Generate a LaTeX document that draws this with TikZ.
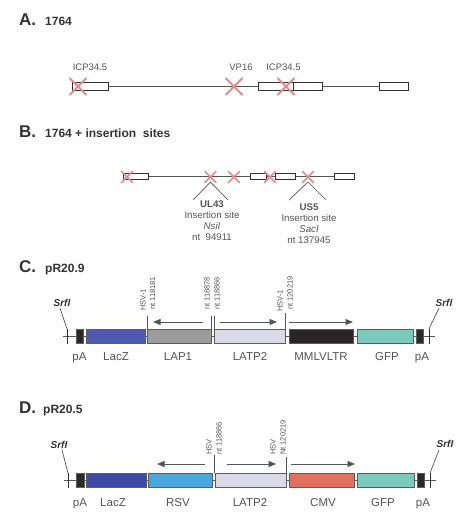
\documentclass[tikz,border=0pt]{standalone}
\usepackage{fontspec}
\setmainfont{Liberation Sans}
\usetikzlibrary{arrows.meta,shapes.misc}
\definecolor{ink}{HTML}{333333}
\definecolor{lab}{HTML}{555555}
\definecolor{ln}{HTML}{555555}
\definecolor{xred}{HTML}{E58A88}
\definecolor{cPA}{HTML}{2A2A2A}
\definecolor{cLacZa}{HTML}{4F5BB0}
\definecolor{cLacZb}{HTML}{3C4AA6}
\definecolor{cLAP}{HTML}{9C9C9C}
\definecolor{cLATP}{HTML}{D9DBE9}
\definecolor{cMML}{HTML}{2B2326}
\definecolor{cGFP}{HTML}{7CCABB}
\definecolor{cRSV}{HTML}{4AA6DC}
\definecolor{cCMV}{HTML}{E2705F}
\tikzset{
  hdr/.style={anchor=base west,inner sep=0,text=ink,font=\fontsize{17}{17}\selectfont\bfseries},
  sub/.style={anchor=base west,inner sep=0,text=ink,font=\fontsize{12}{12}\selectfont\bfseries},
  lbl/.style={anchor=base,inner sep=0,text=lab,font=\fontsize{9.5}{11}\selectfont},
  blbl/.style={anchor=base,inner sep=0,text=lab,font=\fontsize{11.5}{12}\selectfont},
  ilbl/.style={anchor=north,inner sep=0,text=lab,align=center,font=\fontsize{9.7}{11}\selectfont},
  rot/.style={anchor=west,rotate=90,inner sep=0,text=lab,font=\fontsize{7.5}{8}\selectfont},
  srf/.style={anchor=base,inner sep=0,text=ink,font=\fontsize{10}{10}\selectfont\bfseries\itshape},
  bb/.style={draw=ln,line width=0.7pt},
  abox/.style={draw=ink,fill=white,line width=0.8pt,rectangle,inner sep=0,minimum height=8pt},
  bbox/.style={draw=ink,fill=white,line width=0.7pt,rectangle,inner sep=0,minimum height=6pt},
  cbox/.style={draw=ink!80,line width=0.6pt,rectangle,inner sep=0,minimum height=14pt},
  xbig/.style={cross out,draw=xred,line width=2pt,minimum size=15pt,inner sep=0},
  xsmall/.style={cross out,draw=xred,line width=1.6pt,minimum size=10pt,inner sep=0},
  marker/.style={draw=ln,line width=0.7pt},
  dir/.style={draw=ln,line width=0.9pt,-{Triangle[length=7.5pt,width=6pt]}},
  tick/.style={draw=ink,line width=1pt}
}
\begin{document}
\begin{tikzpicture}[x=1pt,y=-1pt]
\useasboundingbox (0,0) rectangle (471,524);
% ---------------- A
\node[hdr] (hA) at (19,26) {A.};
\node[sub] (tA) at (45,26) {1764};
\coordinate (aL) at (72,86);
\coordinate (aR) at (408,86);
\draw[bb] (aL) -- (aR);
\node[abox,minimum width=36pt] (a1) at (90,86) {};
\node[abox,minimum width=35pt] (a2) at (275.5,86) {};
\node[abox,minimum width=29pt] (a3) at (307.5,86) {};
\node[abox,minimum width=29pt] (a4) at (393.5,86) {};
\node[xbig] (ax1) at (78,86.5) {};
\node[xbig] (ax2) at (234,86.5) {};
\node[xbig] (ax3) at (286,86.5) {};
\node[lbl] (al1) at (90,71) {ICP34.5};
\node[lbl] (al2) at (241,71) {VP16};
\node[lbl] (al3) at (283.5,71) {ICP34.5};
% ---------------- B
\node[hdr] (hB) at (19,137) {B.};
\node[sub] (tB) at (45,137) {1764 + insertion\ \ sites};
\coordinate (bL) at (123,176);
\coordinate (bR) at (354,176);
\draw[bb] (bL) -- (bR);
\node[bbox,minimum width=25pt] (b1) at (135.5,176) {};
\node[bbox,minimum width=16pt] (b2) at (258,176) {};
\node[bbox,minimum width=20pt] (b3) at (285,176) {};
\node[bbox,minimum width=20pt] (b4) at (344,176) {};
\node[xsmall] (bx1) at (127,177) {};
\node[xsmall] (bx2) at (210.5,177) {};
\node[xsmall] (bx3) at (234,177) {};
\node[xsmall] (bx4) at (270,177) {};
\node[xsmall] (bx5) at (308,177) {};
\coordinate (u0) at (210.5,182);
\coordinate (s0) at (308,182);
\coordinate (u1) at (193,200);
\coordinate (u2) at (228,200);
\coordinate (s1) at (289,200);
\coordinate (s2) at (326,200);
\draw[bb] (u1) -- (u0) -- (u2);
\draw[bb] (s1) -- (s0) -- (s2);
\node[ilbl] (ul43) at (212,201) {\textbf{UL43}\\Insertion site\\\textit{NsiI}\\nt\ \ 94911};
\node[ilbl] (us5) at (309,204) {\textbf{US5}\\Insertion site\\\textit{SacI}\\nt 137945};
% ---------------- C
\node[hdr] (hC) at (19,272) {C.};
\node[sub] (tC) at (45,272) {pR20.9};
\coordinate (cL) at (63,336);
\coordinate (cR) at (435,336);
\draw[bb] (cL) -- (cR);
\node[cbox,fill=cPA,minimum width=7pt] (cpa1) at (79.5,336) {};
\node[cbox,fill=cLacZa,minimum width=59pt] (clacz) at (115.5,336) {};
\node[cbox,fill=cLAP,minimum width=64.5pt] (clap) at (179.25,336) {};
\node[cbox,fill=cLATP,minimum width=71pt] (clatp) at (249.5,336) {};
\node[cbox,fill=cMML,minimum width=64pt] (cmml) at (321,336) {};
\node[cbox,fill=cGFP,minimum width=56.5pt] (cgfp) at (385.25,336) {};
\node[cbox,fill=cPA,minimum width=7pt] (cpa2) at (419.5,336) {};
\coordinate (ct1a) at (67,329); \coordinate (ct1b) at (67,344);
\coordinate (ct2a) at (429,329); \coordinate (ct2b) at (429,344);
\draw[tick] (ct1a) -- (ct1b);
\draw[tick] (ct2a) -- (ct2b);
\node[srf] (csrf1) at (62,306) {SrfI};
\node[srf] (csrf2) at (444,306) {SrfI};
\coordinate (cs1) at (60,308); \coordinate (cs2) at (439,308);
\draw[bb] (cs1) -- (ct1a);
\draw[bb] (cs2) -- (ct2a);
\coordinate (cm1) at (147,316); \coordinate (cm2) at (211.5,316);
\coordinate (cm3) at (214,316); \coordinate (cm4) at (285,313);
\draw[marker] (cm1) -- (cm1 |- clap.north);
\draw[marker] (cm2) -- (cm2 |- clap.north);
\draw[marker] (cm3) -- (cm3 |- clatp.north);
\draw[marker] (cm4) -- (cm4 |- clatp.north);
\coordinate (ca1s) at (203,322); \coordinate (ca1e) at (153,322);
\coordinate (ca2s) at (220,322); \coordinate (ca2e) at (277,322);
\coordinate (ca3s) at (289,322); \coordinate (ca3e) at (353,322);
\draw[dir] (ca1s) -- (ca1e);
\draw[dir] (ca2s) -- (ca2e);
\draw[dir] (ca3s) -- (ca3e);
\node[rot] (cr1) at (143,311) {HSV-1};
\node[rot] (cr2) at (152.5,310) {nt 118181};
\node[rot] (cr3) at (207,310) {nt 118878};
\node[rot] (cr4) at (217,310) {nt 118866};
\node[rot] (cr5) at (280,312) {HSV-1};
\node[rot] (cr6) at (290,310) {nt 120219};
\node[blbl] at (79.5,360) {pA};
\node[blbl] at (116,360) {LacZ};
\node[blbl] at (178,360) {LAP1};
\node[blbl] at (250,360) {LATP2};
\node[blbl] at (321,360) {MMLVLTR};
\node[blbl] at (387,360) {GFP};
\node[blbl] at (422,360) {pA};
% ---------------- D
\node[hdr] (hD) at (19,413) {D.};
\node[sub] (tD) at (43,413) {pR20.5};
\coordinate (dL) at (64,480);
\coordinate (dR) at (436,480);
\draw[bb] (dL) -- (dR);
\node[cbox,fill=cPA,minimum width=8pt] (dpa1) at (80,480) {};
\node[cbox,fill=cLacZb,minimum width=60pt] (dlacz) at (116,480) {};
\node[cbox,fill=cRSV,minimum width=64pt] (drsv) at (180,480) {};
\node[cbox,fill=cLATP,minimum width=71pt] (dlatp) at (250.5,480) {};
\node[cbox,fill=cCMV,minimum width=65pt] (dcmv) at (321.5,480) {};
\node[cbox,fill=cGFP,minimum width=57pt] (dgfp) at (385.5,480) {};
\node[cbox,fill=cPA,minimum width=7pt] (dpa2) at (420.5,480) {};
\coordinate (dt1a) at (68,473); \coordinate (dt1b) at (68,488);
\coordinate (dt2a) at (430,473); \coordinate (dt2b) at (430,488);
\draw[tick] (dt1a) -- (dt1b);
\draw[tick] (dt2a) -- (dt2b);
\node[srf] (dsrf1) at (59,448) {SrfI};
\node[srf] (dsrf2) at (445,447) {SrfI};
\coordinate (ds1) at (62,450); \coordinate (ds2) at (439,450);
\draw[bb] (ds1) -- (dt1a);
\draw[bb] (ds2) -- (dt2a);
\coordinate (dm1) at (214,455); \coordinate (dm2) at (286,457);
\draw[marker] (dm1) -- (dm1 |- dlatp.north);
\draw[marker] (dm2) -- (dm2 |- dlatp.north);
\coordinate (da1s) at (205,464); \coordinate (da1e) at (157,464);
\coordinate (da2s) at (227,464); \coordinate (da2e) at (276,464);
\coordinate (da3s) at (291,464); \coordinate (da3e) at (355,464);
\draw[dir] (da1s) -- (da1e);
\draw[dir] (da2s) -- (da2e);
\draw[dir] (da3s) -- (da3e);
\node[rot] (dr1) at (209,455) {HSV};
\node[rot] (dr2) at (219,455) {nt 118866};
\node[rot] (dr3) at (273,455) {HSV};
\node[rot] (dr4) at (283,455) {Nt 120219};
\node[blbl] at (80,506) {pA};
\node[blbl] at (113,506) {LacZ};
\node[blbl] at (178,506) {RSV};
\node[blbl] at (250,506) {LATP2};
\node[blbl] at (323,506) {CMV};
\node[blbl] at (383,506) {GFP};
\node[blbl] at (423,506) {pA};
\end{tikzpicture}
\end{document}
